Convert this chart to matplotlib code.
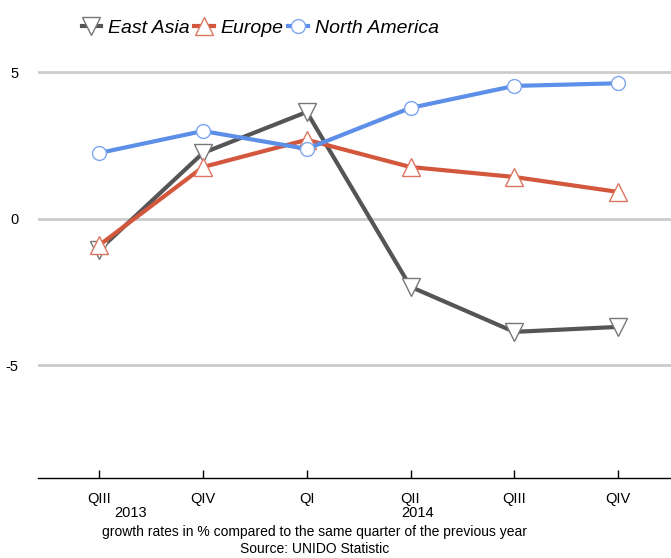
import matplotlib
matplotlib.use("Agg")
import matplotlib.pyplot as plt

plt.rcParams['font.family'] = ['Liberation Sans', 'DejaVu Sans']

quarters = ["QIII", "QIV", "QI", "QII", "QIII", "QIV"]
years = ["2013", "2014"]
east_asia = [-1.06, 2.25, 3.65, -2.32, -3.86, -3.69]
europe = [-0.9, 1.77, 2.7, 1.77, 1.43, 0.92]
north_america = [2.25, 3.0, 2.39, 3.79, 4.54, 4.63]

fig = plt.figure(figsize=(6.71, 5.58), dpi=100)
ax = fig.add_axes([0.0566, 0.1434, 0.9434, 0.785])

x = range(len(quarters))
ax.plot(x, east_asia, color="#555555", lw=3, marker="v", ms=13,
        mfc="white", mec="#777777", mew=1, label="East Asia", zorder=3)
ax.plot(x, europe, color="#d2573c", lw=3, marker="^", ms=13,
        mfc="white", mec="#de7560", mew=1, label="Europe", zorder=3)
ax.plot(x, north_america, color="#5d8fe8", lw=3, marker="o", ms=10,
        mfc="white", mec="#7fa6ee", mew=1, label="North America", zorder=3)

ax.set_xlim(-0.59, 5.51)
ax.set_ylim(-8.85, 6.11)
ax.set_yticks([-5, 0, 5])
ax.set_yticklabels(["-5", "0", "5"])
ax.yaxis.grid(True, color="#cccccc", lw=2)
ax.set_axisbelow(True)
ax.tick_params(axis="y", length=0, pad=14, labelsize=10.5)
ax.set_xticks(list(x))
ax.set_xticklabels(quarters)
ax.tick_params(axis="x", direction="in", length=6, width=1, pad=10,
               labelsize=10.5)
for s in ["top", "right", "left"]:
    ax.spines[s].set_visible(False)
ax.spines["bottom"].set_linewidth(1)

# year labels under the quarter ticks
ax.text(0.3, -35 / 438, years[0], transform=ax.get_xaxis_transform(),
        ha="center", va="center", fontsize=10.5)
ax.text(3.07, -35 / 438, years[1], transform=ax.get_xaxis_transform(),
        ha="center", va="center", fontsize=10.5)
fig.text(315 / 671, 1 - 532 / 558,
         "growth rates in % compared to the same quarter of the previous year",
         ha="center", va="center", fontsize=10)
fig.text(315 / 671, 1 - 549 / 558, "Source: UNIDO Statistic",
         ha="center", va="center", fontsize=10)

leg = fig.legend(loc="upper left", bbox_to_anchor=(64 / 671, 1 - 2 / 558),
                 ncol=3, frameon=False, handlelength=1.0, handletextpad=0.35,
                 columnspacing=0.25, prop={"style": "italic", "size": 14})

fig.savefig("out.png", dpi=100)
